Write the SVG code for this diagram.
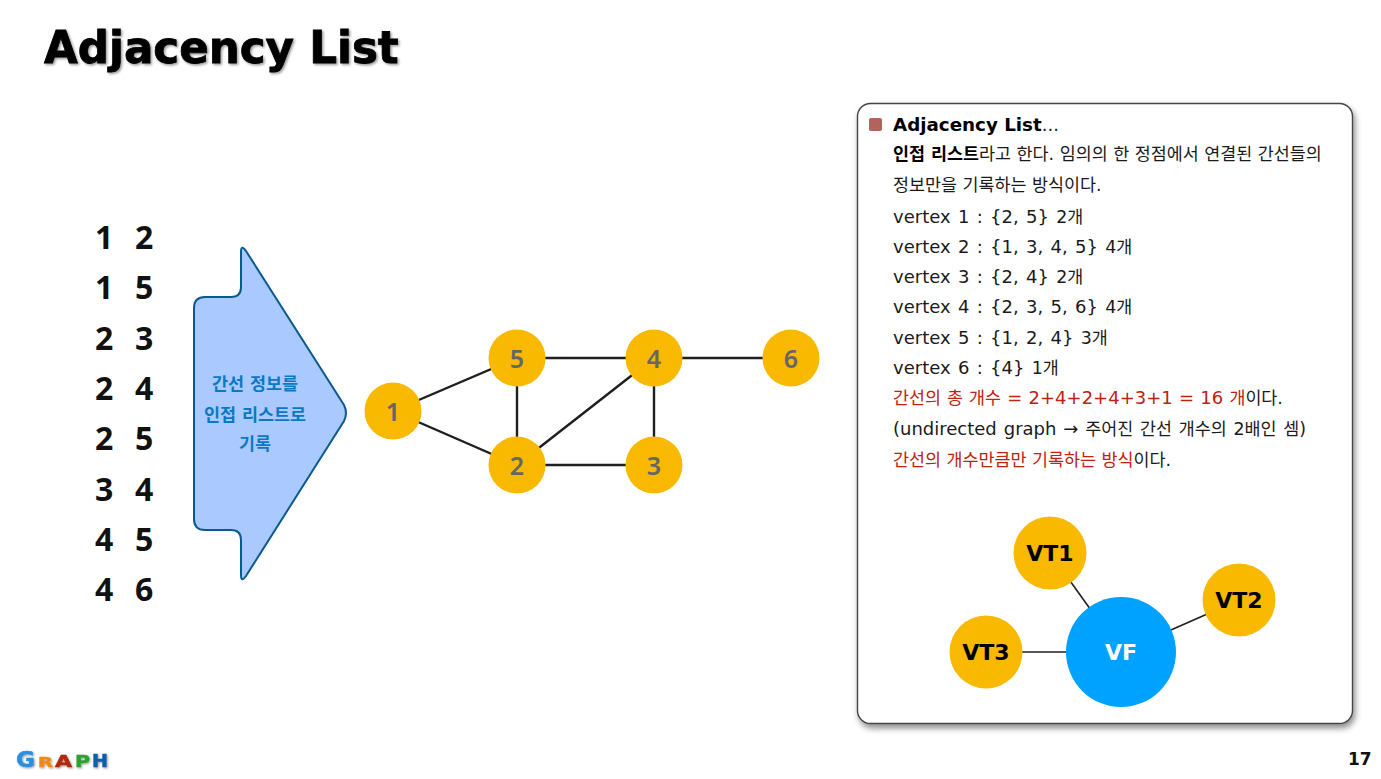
<svg xmlns="http://www.w3.org/2000/svg" width="1381" height="779" viewBox="0 0 1381 779">
<defs>
<filter id="ts" x="-5%" y="-20%" width="110%" height="140%"><feDropShadow dx="1.500" dy="1.500" stdDeviation="1.200" flood-color="#000" flood-opacity="0.4"/></filter>
<filter id="bs" x="-5%" y="-5%" width="110%" height="110%"><feDropShadow dx="2" dy="4" stdDeviation="3" flood-color="#000" flood-opacity="0.45"/></filter>
<filter id="ls" x="-10%" y="-30%" width="120%" height="160%"><feDropShadow dx="1" dy="1" stdDeviation="1" flood-color="#000" flood-opacity="0.4"/></filter>
</defs>
<style>
text{font-family:"DejaVu Sans","Noto Sans CJK KR",sans-serif}
.t{font-size:18px;fill:#1a1a1a}
.k{font-size:17.4px}
.w{word-spacing:1.6px}
.r{fill:#c0210f}
.b{font-weight:700;fill:#000}
.n{font-family:"Noto Sans",sans-serif;font-size:32px;font-weight:700;fill:#111}
.v{fill:#f8b900}
.vl{font-family:"Noto Sans",sans-serif;font-size:25px;font-weight:600;fill:#666;text-anchor:middle}
.vt{font-size:22px;font-weight:700;fill:#000;text-anchor:middle}
.e{stroke:#1f1f1f;stroke-width:2.4;fill:none}
.e2{stroke:#1f1f1f;stroke-width:1.6;fill:none}
.ar{font-size:17.4px;font-weight:700;fill:#0a79c4;text-anchor:middle}
</style>
<rect width="1381" height="779" fill="#fff"/>
<text id="title" x="44" y="63" font-size="43.6" font-weight="700" fill="#000" stroke="#000" stroke-width="0.8" filter="url(#ts)">Adjacency List</text>

<g id="numbers">
<text class="n" x="95" y="248.500">1</text><text class="n" x="135" y="248.500">2</text>
<text class="n" x="95" y="299">1</text><text class="n" x="135" y="299">5</text>
<text class="n" x="95" y="349.500">2</text><text class="n" x="135" y="349.500">3</text>
<text class="n" x="95" y="399.500">2</text><text class="n" x="135" y="399.500">4</text>
<text class="n" x="95" y="450">2</text><text class="n" x="135" y="450">5</text>
<text class="n" x="95" y="500.500">3</text><text class="n" x="135" y="500.500">4</text>
<text class="n" x="95" y="551">4</text><text class="n" x="135" y="551">5</text>
<text class="n" x="95" y="601">4</text><text class="n" x="135" y="601">6</text>
</g>

<g id="arrow">
<path d="M241 252 Q241 244 246 251 L344 405 Q348 413 344 421 L246 576 Q241 583 241 575 L241 540 Q241 530 231 530 L205 530 Q194 530 194 519 L194 308 Q194 297 205 297 L231 297 Q241 297 241 287 Z" fill="#a9c9ff" stroke="#0b5a8e" stroke-width="2"/>
<text class="ar" x="255" y="390">간선 정보를</text>
<text class="ar" x="255" y="420.500">인접 리스트로</text>
<text class="ar" x="255" y="450">기록</text>
</g>

<g id="panel">
<rect x="857.500" y="103.500" width="495" height="620" rx="13" fill="#fff" stroke="#444" stroke-width="1.400" filter="url(#bs)"/>
<rect x="869" y="118" width="13" height="13" rx="2" fill="#b0645c"/>
<text class="t" x="893" y="131"><tspan class="b" style="font-size:18.3px">Adjacency List</tspan>...</text>
<text class="t k" x="893" y="160"><tspan class="b">인접 리스트</tspan>라고 한다. 임의의 한 정점에서 연결된 간선들의</text>
<text class="t k" x="893" y="191">정보만을 기록하는 방식이다.</text>
<text class="t w" x="893" y="222.500">vertex 1 : {2, 5} <tspan class="k">2개</tspan></text>
<text class="t w" x="893" y="252.500">vertex 2 : {1, 3, 4, 5} <tspan class="k">4개</tspan></text>
<text class="t w" x="893" y="283">vertex 3 : {2, 4} <tspan class="k">2개</tspan></text>
<text class="t w" x="893" y="313">vertex 4 : {2, 3, 5, 6} <tspan class="k">4개</tspan></text>
<text class="t w" x="893" y="343.500">vertex 5 : {1, 2, 4} <tspan class="k">3개</tspan></text>
<text class="t w" x="893" y="373.500">vertex 6 : {4} <tspan class="k">1개</tspan></text>
<text class="t" x="893" y="404" style="word-spacing:0.5px"><tspan class="r k">간선의 총 개수</tspan><tspan class="r"> = 2+4+2+4+3+1 = 16 </tspan><tspan class="r k">개</tspan><tspan class="k">이다.</tspan></text>
<text class="t" x="893" y="435" style="word-spacing:1.2px">(undirected graph → <tspan class="k">주어진 간선 개수의 2배인 셈)</tspan></text>
<text class="t k" x="893" y="465.500"><tspan class="r">간선의 개수만큼만 기록하는 방식</tspan>이다.</text>
</g>

<g id="connectors">
<line class="e" x1="393" y1="411" x2="517" y2="358"/>
<line class="e" x1="393" y1="411" x2="517" y2="465"/>
<line class="e" x1="517" y1="358" x2="517" y2="465"/>
<line class="e" x1="517" y1="358" x2="654" y2="358"/>
<line class="e" x1="517" y1="465" x2="654" y2="358"/>
<line class="e" x1="517" y1="465" x2="654" y2="465"/>
<line class="e" x1="654" y1="358" x2="654" y2="465"/>
<line class="e" x1="654" y1="358" x2="791" y2="358"/>
<line class="e2" x1="1050" y1="553" x2="1121" y2="652"/>
<line class="e2" x1="1239" y1="600" x2="1121" y2="652"/>
<line class="e2" x1="986" y1="652" x2="1121" y2="652"/>
</g>

<g id="node1"><circle class="v" cx="393" cy="411" r="28.500"/><text class="vl" x="393" y="421">1</text></g>
<g id="node2"><circle class="v" cx="517" cy="465" r="28.500"/><text class="vl" x="517" y="475">2</text></g>
<g id="node3"><circle class="v" cx="654" cy="465" r="28.500"/><text class="vl" x="654" y="475">3</text></g>
<g id="node4"><circle class="v" cx="654" cy="358" r="28.500"/><text class="vl" x="654" y="368">4</text></g>
<g id="node5"><circle class="v" cx="517" cy="358" r="28.500"/><text class="vl" x="517" y="368">5</text></g>
<g id="node6"><circle class="v" cx="791" cy="358" r="28.500"/><text class="vl" x="791" y="368">6</text></g>

<g id="vt1"><circle class="v" cx="1050" cy="553" r="36.500"/><text class="vt" x="1050" y="561">VT1</text></g>
<g id="vt2"><circle class="v" cx="1239" cy="600" r="36.500"/><text class="vt" x="1239" y="608">VT2</text></g>
<g id="vt3"><circle class="v" cx="986" cy="652" r="36.500"/><text class="vt" x="986" y="660">VT3</text></g>
<g id="vf"><circle cx="1121" cy="652" r="55" fill="#00a2ff"/><text class="vt" x="1121" y="660" style="fill:#fff">VF</text></g>

<g id="logo" filter="url(#ls)" font-weight="700" stroke-width="0.5">
<text x="16" y="766.500" font-size="22" textLength="19" lengthAdjust="spacingAndGlyphs" fill="#2a8fe0" stroke="#2a8fe0">G</text>
<text x="38" y="766.500" font-size="14.500" textLength="15" lengthAdjust="spacingAndGlyphs" fill="#f08a10" stroke="#f08a10">R</text>
<text x="55" y="766.500" font-size="16" textLength="17" lengthAdjust="spacingAndGlyphs" fill="#b02a10" stroke="#b02a10">A</text>
<text x="75" y="766.500" font-size="16" textLength="15" lengthAdjust="spacingAndGlyphs" fill="#2ea02e" stroke="#2ea02e">P</text>
<text x="92" y="766.500" font-size="18" textLength="16" lengthAdjust="spacingAndGlyphs" fill="#0f5fa8" stroke="#0f5fa8">H</text>
</g>
<text id="page" x="1348" y="765" font-size="17" font-weight="700" fill="#111">17</text>
</svg>
